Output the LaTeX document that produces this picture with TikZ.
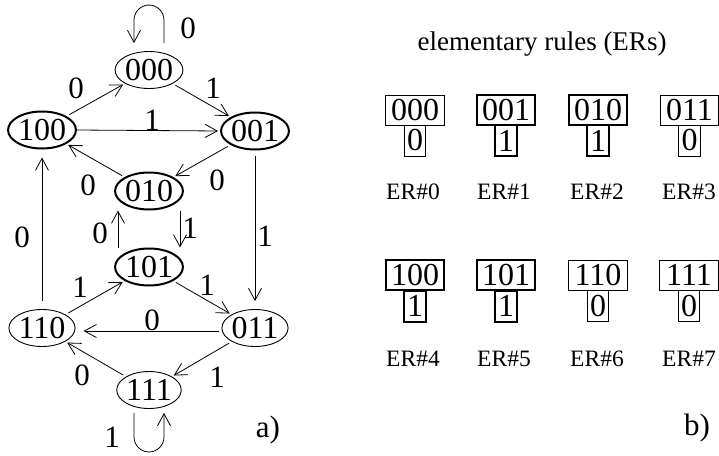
\documentclass[tikz,border=0pt]{standalone}
\usepackage{fontspec}
\setmainfont{Liberation Serif}
\usetikzlibrary{shapes.geometric,arrows.meta}
\tikzset{
  st/.style={ellipse, draw, line width=0.9pt, minimum width=62pt, minimum height=37pt, inner sep=0pt, font=\fontsize{32}{32}\selectfont},
  stb/.style={st, line width=2pt},
  lab/.style={font=\fontsize{31}{31}\selectfont, inner sep=0pt},
  arr/.style={-{Straight Barb[length=12pt,width=13pt]}, line width=0.8pt},
  topbox/.style={draw, minimum width=58.6pt, minimum height=30pt, inner sep=0pt, font=\fontsize{32}{32}\selectfont, line width=0.8pt},
  botbox/.style={draw, minimum width=21.5pt, minimum height=31pt, inner sep=0pt, font=\fontsize{32}{32}\selectfont, line width=0.8pt},
  heavy/.style={line width=2pt},
  erlab/.style={font=\fontsize{23.5}{23.5}\selectfont, inner sep=0pt},
}
\begin{document}
\begin{tikzpicture}[x=1pt,y=1pt]
\useasboundingbox (0,0) rectangle (719,-455);
% states
\node[st]  (n000) at (149,-70)  {000};
\node[stb] (n100) at (42,-130)  {100};
\node[stb] (n001) at (255,-131) {001};
\node[stb] (n010) at (149,-191) {010};
\node[stb] (n101) at (149,-267) {101};
\node[st]  (n110) at (42,-328)  {110};
\node[st]  (n011) at (255,-328) {011};
\node[st]  (n111) at (149,-390) {111};
% edges
\draw[arr, shorten <=3pt, shorten >=2pt] (n100) -- (n000);
\draw[arr, shorten <=3pt, shorten >=2pt] (n000) -- (n001);
\draw[arr, shorten >=2pt] (n100.east) -- (n001.west);
\draw[arr, shorten <=3pt, shorten >=2pt] (n001) -- (n010);
\draw[arr, shorten <=3pt, shorten >=2pt] (n010) -- (n100);
\draw[arr, shorten <=5pt, shorten >=8pt] (n001.south) -- (n011.north);
\draw[arr, shorten >=0pt] ([xshift=-31pt]n101.north) -- ([xshift=-31pt]n010.south);
\draw[arr, shorten >=0pt] ([xshift=31pt]n010.south) -- ([xshift=31pt]n101.north);
\draw[arr, shorten <=3pt, shorten >=2pt] (n110) -- (n101);
\draw[arr, shorten <=3pt, shorten >=2pt] (n101) -- (n011);
\draw[arr, shorten <=2pt, shorten >=8pt] ([yshift=-3pt]n011.west) -- ([yshift=-3pt]n110.east);
\draw[arr, shorten <=3pt, shorten >=2pt] (n011) -- (n111);
\draw[arr, shorten <=3pt, shorten >=2pt] (n111) -- (n110);
\draw[arr, shorten <=8pt, shorten >=8pt] (n110.north) -- (n100.south);
% self loops
\coordinate (l0) at ([shift={(15pt,8pt)}]n000.north);
\draw[arr] (l0) -- ++(0,23) arc[start angle=0, end angle=180, radius=15pt] -- ++(0,-23);
\coordinate (l7) at ([shift={(-15pt,-4pt)}]n111.south);
\draw[arr] (l7) -- ++(0,-24) arc[start angle=180, end angle=360, radius=15pt] -- ++(0,24);
% edge labels
\node[lab] (e1) at (188,-28)  {0};
\node[lab] (e2) at (76,-88)   {0};
\node[lab] (e3) at (213,-88)  {1};
\node[lab] (e4) at (152,-120) {1};
\node[lab] (e5) at (217,-180) {0};
\node[lab] (e6) at (88,-185)  {0};
\node[lab] (e7) at (22,-237)  {0};
\node[lab] (e8) at (100,-233) {0};
\node[lab] (e9) at (190,-228) {1};
\node[lab] (e10) at (265,-236) {1};
\node[lab] (e11) at (80,-287)  {1};
\node[lab] (e12) at (207,-285) {1};
\node[lab] (e13) at (152,-320) {0};
\node[lab] (e14) at (82,-375)  {0};
\node[lab] (e15) at (217,-377) {1};
\node[lab] (e16) at (112,-437) {1};
\node[lab] (pa) at (268,-430) {a)};
% rules
\node[erlab, font=\fontsize{27}{27}\selectfont] (title) at (542,-44) {elementary rules (ERs)};
\node[topbox] (r0t) at (415,-110) {000};
\node[botbox] (r0b) at (415,-140.5) {0};
\node[topbox,heavy] (r1t) at (506,-110) {001};
\node[botbox,heavy] (r1b) at (506,-140.5) {1};
\node[topbox,heavy] (r2t) at (598,-110) {010};
\node[botbox,heavy] (r2b) at (598,-140.5) {1};
\node[topbox] (r3t) at (689.5,-110) {011};
\node[botbox] (r3b) at (689.5,-140.5) {0};
\node[erlab] (r0l) at (413,-192) {ER\#0};
\node[erlab] (r1l) at (504,-192) {ER\#1};
\node[erlab] (r2l) at (597,-192) {ER\#2};
\node[erlab] (r3l) at (689,-192) {ER\#3};
\node[topbox,heavy] (r4t) at (415,-275) {100};
\node[botbox,heavy] (r4b) at (415,-306) {1};
\node[topbox,heavy] (r5t) at (506,-275) {101};
\node[botbox,heavy] (r5b) at (506,-306) {1};
\node[topbox] (r6t) at (598,-275) {110};
\node[botbox] (r6b) at (598,-306) {0};
\node[topbox] (r7t) at (689,-275) {111};
\node[botbox] (r7b) at (689,-306) {0};
\node[erlab] (r4l) at (413,-359) {ER\#4};
\node[erlab] (r5l) at (504,-359) {ER\#5};
\node[erlab] (r6l) at (597,-359) {ER\#6};
\node[erlab] (r7l) at (689,-359) {ER\#7};
\node[lab] (pb) at (697,-428) {b)};
\end{tikzpicture}
\end{document}
